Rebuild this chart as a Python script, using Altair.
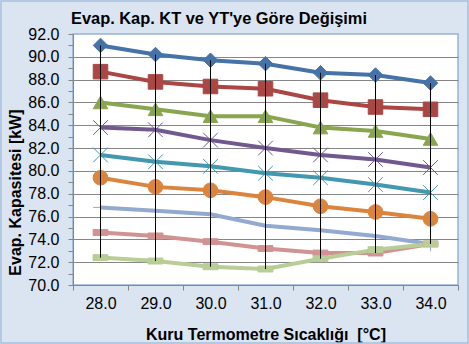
import altair as alt
import pandas as pd

temps = ["28.0", "29.0", "30.0", "31.0", "32.0", "33.0", "34.0"]
series_names = ["Seri 1", "Seri 2", "Seri 3", "Seri 4", "Seri 5", "Seri 6", "Seri 7", "Seri 8", "Seri 9"]

s1 = [91.0, 90.2, 89.7, 89.4, 88.6, 88.4, 87.7]
s2 = [88.7, 87.8, 87.4, 87.2, 86.2, 85.6, 85.4]
s3 = [86.0, 85.4, 84.8, 84.8, 83.8, 83.5, 82.8]
s4 = [83.8, 83.6, 82.7, 82.0, 81.4, 81.0, 80.3]
s5 = [81.4, 80.8, 80.4, 79.8, 79.4, 78.8, 78.1]
s6 = [79.4, 78.6, 78.3, 77.7, 76.9, 76.4, 75.8]
s7 = [76.8, 76.5, 76.2, 75.2, 74.8, 74.3, 73.6]
s8 = [74.6, 74.3, 73.8, 73.2, 72.8, 72.8, 73.6]
s9 = [72.4, 72.1, 71.6, 71.4, 72.3, 73.1, 73.6]
values = [s1, s2, s3, s4, s5, s6, s7, s8, s9]

chart_title = "Evap. Kap. KT ve YT'ye Göre Değişimi"

colors = ["#4572A7", "#AA4643", "#89A54E", "#71588F", "#4198AF",
          "#DB843D", "#93A9CF", "#D19392", "#B9CD96"]
shapes = ["diamond", "square", "triangle-up",
          "M-1,-1L1,1M-1,1L1,-1",
          "M-1,-1L1,1M-1,1L1,-1M0,-1.2L0,1.2",
          "circle",
          "M-1,0L1,0M0,-1L0,1",
          "M-1,-0.4L1,-0.4L1,0.4L-1,0.4Z",
          "M-1,-0.4L1,-0.4L1,0.4L-1,0.4Z"]
marker_sizes = [210, 220, 190, 190, 190, 220, 200, 110, 110]
marker_strokes = [1, 1, 1, 2, 2, 1, 2, 1, 1]

rows = []
for name, vals in zip(series_names, values):
    for t, v in zip(temps, vals):
        rows.append({"KT": t, "Seri": name, "Kap": v})
df = pd.DataFrame(rows)

x_enc = alt.X(
    "KT:N", sort=temps, bandPosition=0.5,
    scale=alt.Scale(type="band", paddingInner=0, paddingOuter=0),
    axis=alt.Axis(tickBand="extent", labelAngle=0, labelPadding=5, grid=False,
                  ticks=True, tickSize=5,
                  title="Kuru Termometre Sıcaklığı\u00a0 [°C]",
                  titleY=54, titleBaseline="alphabetic"),
)
y_scale = alt.Scale(domain=[70, 92], nice=False, zero=False)
y_axis = alt.Axis(
    values=list(range(70, 93)),
    labelExpr="datum.value % 2 == 0 ? format(datum.value, '.1f') : ''",
    labelOverlap=False,
    gridOpacity={"condition": {"test": "datum.value % 2 == 1 || datum.value == 92", "value": 0}, "value": 1},
    labelPadding=9, ticks=True, tickSize=5,
    title="Evap. Kapasitesi [kW]",
    titleX=-58, titleY=158, titleAngle=270, titleBaseline="middle",
)
y_enc = alt.Y("Kap:Q", scale=y_scale, axis=y_axis)
color_scale = alt.Scale(domain=series_names, range=colors)

base = alt.Chart(df)

lines = base.mark_line(strokeWidth=4).encode(
    x=x_enc, y=y_enc,
    color=alt.Color("Seri:N", scale=color_scale, legend=None),
)

points = base.mark_point(filled=True, opacity=1).encode(
    x=x_enc, y=y_enc,
    color=alt.Color("Seri:N", scale=color_scale, legend=None),
    stroke=alt.Stroke("Seri:N", scale=color_scale, legend=None),
    shape=alt.Shape("Seri:N", scale=alt.Scale(domain=series_names, range=shapes), legend=None),
    size=alt.Size("Seri:N", scale=alt.Scale(domain=series_names, range=marker_sizes), legend=None),
    strokeWidth=alt.StrokeWidth("Seri:N", scale=alt.Scale(domain=series_names, range=marker_strokes), legend=None),
)

drops = base.mark_rule(color="black", strokeWidth=1).encode(
    x=x_enc,
    y=alt.Y("min(Kap):Q", scale=y_scale, axis=y_axis),
    y2=alt.Y2("max(Kap)"),
)

title_text = alt.Chart(pd.DataFrame({"t": [chart_title]})).mark_text(
    align="left", baseline="alphabetic", font="Liberation Sans",
    fontSize=16.4, fontWeight="bold", color="black",
).encode(
    x=alt.value(-2), y=alt.value(-10), text="t:N"
)

border = alt.Chart(pd.DataFrame({"b": [0]})).mark_rect(
    fillOpacity=0, stroke="#A7BFDE", strokeWidth=1.5
).encode(
    x=alt.value(-72), x2=alt.value(395), y=alt.value(-33), y2=alt.value(309)
)

chart = alt.layer(lines, points, drops, title_text, border).properties(
    width=385, height=251,
    autosize=alt.AutoSizeParams(type="none"),
    padding={"left": 73, "top": 34, "right": 11, "bottom": 59},
).configure(
    background="#DBE5F1",
).configure_view(
    fill="white", stroke="#95B3D7", strokeWidth=1.5,
).configure_axis(
    domainColor="#868686", tickColor="#868686", gridColor="#868686",
    labelFont="Liberation Sans", labelFontSize=16, labelColor="black",
    labelOverlap=False,
    titleFont="Liberation Sans", titleFontSize=16, titleFontWeight="bold",
    titleColor="black",
)

chart.save("out.html", embed_options={"renderer": "svg", "actions": False})
